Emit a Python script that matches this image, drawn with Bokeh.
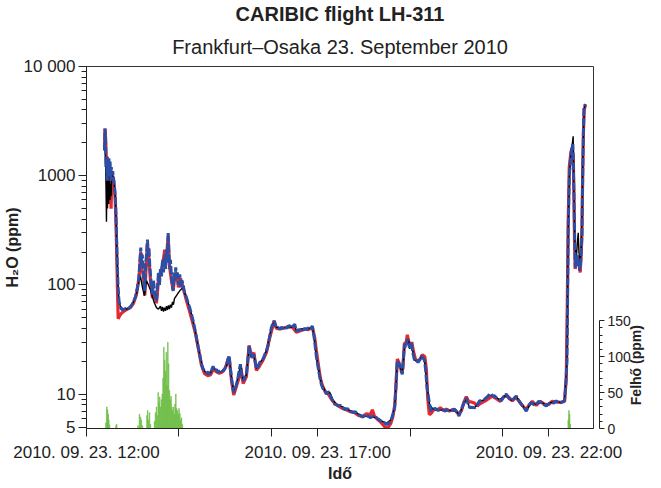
import math
import pandas as pd
from bokeh.plotting import figure
from bokeh.models import (Range1d, LinearAxis, LinearScale, FixedTicker, DatetimeTickFormatter,
                          Title)
from bokeh.embed import file_html
from bokeh.resources import INLINE

FLIGHT_DATE = "2010-09-23"

# ---- H2O, blue series (decimal hours of the day, ppm) ----
blue_hours = [12.389, 12.398, 12.411, 12.421, 12.432, 12.445, 12.458, 12.471, 12.484, 12.497,
              12.510, 12.523, 12.536, 12.551, 12.566, 12.584, 12.605, 12.627, 12.648, 12.663,
              12.681, 12.702, 12.724, 12.756, 12.800, 12.843, 12.886, 12.929, 12.973, 13.016,
              13.059, 13.102, 13.135, 13.156, 13.174, 13.189, 13.206, 13.225, 13.243, 13.260,
              13.279, 13.301, 13.318, 13.336, 13.351, 13.368, 13.387, 13.405, 13.426, 13.448,
              13.470, 13.491, 13.513, 13.534, 13.556, 13.578, 13.599, 13.621, 13.643, 13.664,
              13.692, 13.712, 13.729, 13.746, 13.766, 13.783, 13.800, 13.815, 13.837, 13.859,
              13.874, 13.891, 13.913, 13.930, 13.949, 13.967, 13.988, 14.016, 14.042, 14.064,
              14.090, 14.118, 14.161, 14.198, 14.232, 14.269, 14.306, 14.341, 14.377, 14.414,
              14.449, 14.485, 14.522, 14.557, 14.593, 14.630, 14.665, 14.702, 14.738, 14.773,
              14.810, 14.846, 14.881, 14.918, 14.954, 14.989, 15.026, 15.058, 15.084, 15.112,
              15.134, 15.160, 15.183, 15.209, 15.242, 15.274, 15.307, 15.328, 15.356, 15.387,
              15.421, 15.458, 15.486, 15.516, 15.540, 15.566, 15.592, 15.616, 15.646, 15.674,
              15.706, 15.745, 15.782, 15.819, 15.853, 15.890, 15.927, 15.961, 15.998, 16.026,
              16.057, 16.085, 16.106, 16.143, 16.178, 16.214, 16.251, 16.286, 16.322, 16.359,
              16.394, 16.430, 16.467, 16.502, 16.539, 16.575, 16.610, 16.647, 16.683, 16.718,
              16.755, 16.791, 16.826, 16.863, 16.884, 16.910, 16.934, 16.971, 17.007, 17.042,
              17.079, 17.115, 17.150, 17.187, 17.224, 17.258, 17.295, 17.332, 17.366, 17.403,
              17.446, 17.489, 17.548, 17.598, 17.641, 17.695, 17.764, 17.814, 17.868, 17.922,
              17.980, 18.030, 18.084, 18.138, 18.196, 18.246, 18.289, 18.339, 18.386, 18.440,
              18.484, 18.527, 18.570, 18.592, 18.628, 18.663, 18.689, 18.706, 18.721, 18.754,
              18.786, 18.808, 18.829, 18.855, 18.879, 18.905, 18.937, 18.963, 18.987, 19.007,
              19.024, 19.056, 19.095, 19.132, 19.169, 19.203, 19.240, 19.277, 19.311, 19.337,
              19.359, 19.385, 19.419, 19.456, 19.493, 19.527, 19.564, 19.607, 19.651, 19.709,
              19.759, 19.802, 19.852, 19.899, 19.953, 19.996, 20.055, 20.094, 20.141, 20.176,
              20.213, 20.249, 20.284, 20.321, 20.392, 20.429, 20.465, 20.500, 20.537, 20.573,
              20.608, 20.645, 20.681, 20.716, 20.753, 20.789, 20.824, 20.861, 20.904, 20.969,
              21.023, 21.077, 21.131, 21.185, 21.239, 21.293, 21.347, 21.401, 21.455, 21.509,
              21.563, 21.617, 21.671, 21.725, 21.779, 21.833, 21.887, 21.942, 21.996, 22.050,
              22.104, 22.158, 22.212, 22.266, 22.309, 22.337, 22.363, 22.389, 22.404, 22.417,
              22.432, 22.445, 22.465, 22.482, 22.503, 22.518, 22.529, 22.540, 22.553, 22.568,
              22.585, 22.605, 22.627, 22.648, 22.663, 22.676, 22.694, 22.713, 22.724, 22.735,
              22.745, 22.756, 22.774, 22.791]
blue_h2o = [1700, 2700, 2300, 1200, 1500, 900, 1400, 1000, 1450, 1100,
            1350, 900, 1200, 1050, 1100, 950, 800, 600, 300, 170,
            100, 72, 64, 60, 59, 61, 60, 62, 65, 70,
            78, 95, 120, 170, 220, 150, 190, 140, 110, 88,
            150, 200, 260, 180, 220, 150, 120, 95, 82, 110,
            90, 75, 72, 95, 130, 100, 140, 120, 170, 130,
            190, 140, 210, 160, 300, 190, 140, 170, 120, 95,
            88, 130, 110, 145, 115, 130, 100, 125, 95, 110,
            100, 85, 77, 68, 62, 54, 47, 40, 33, 27,
            23, 19, 17, 16.3, 15.5, 16, 15.2, 16.5, 18, 16.5,
            16.8, 15.8, 16.3, 16.8, 16.2, 17, 18.5, 21, 22.4, 17,
            14.2, 11.8, 10.3, 11, 12.3, 14, 17, 18.8, 15, 13.2,
            14, 15.2, 20, 27.7, 24, 21.6, 22.5, 23.2, 20, 17,
            17.8, 19.5, 20.2, 21, 23, 24.9, 28, 34, 40.7, 44,
            46.9, 43, 40.7, 40.7, 39.5, 41, 40, 41.5, 40, 42,
            42.3, 40.5, 42, 43.8, 37.4, 39, 38.5, 39.8, 38.5, 40,
            39, 40.5, 39.4, 40.5, 42, 36, 30.3, 22, 17.7, 14.5,
            12.3, 11.2, 10.8, 10, 10.5, 10.3, 9.2, 8.6, 8.1, 8.0,
            7.8, 7.9, 7.5, 7.2, 7.4, 7.0, 6.8, 6.9, 6.5, 6.4,
            6.2, 6.5, 6.3, 6.1, 6.3, 6.2, 6.0, 5.8, 5.6, 5.5,
            5.3, 5.4, 5.6, 5.9, 6.6, 7.5, 11, 16, 20.2, 19,
            18.2, 16, 15.2, 22, 28.7, 27, 31.9, 29, 26.7, 28,
            29.7, 24, 20.2, 20.5, 19.5, 20.5, 22.4, 21.5, 20.2, 16,
            12, 10, 8.0, 7.0, 7.2, 7.4, 7.3, 7.1, 7.3, 7.2,
            7.0, 7.2, 7.0, 7.1, 7.3, 7.0, 6.3, 7.0, 7.9, 8.6,
            9.2, 8.2, 7.5, 7.6, 7.5, 7.8, 8.2, 8.7, 8.7, 8.9,
            9.0, 9.3, 9.6, 10, 10, 9.6, 9.7, 9.3, 9.0, 8.7,
            9.5, 10, 9.2, 8.7, 9.1, 9.6, 8.8, 8.1, 7.6, 7.0,
            7.8, 8.4, 8.0, 8.1, 8.6, 8.4, 8.0, 7.8, 8.2, 8.4,
            8.3, 8.7, 8.3, 8.4, 8.6, 8.7, 12, 20, 80, 335,
            700, 1110, 1400, 1700, 1850, 1950, 1100, 680, 300, 144,
            165, 191, 150, 166, 135, 144, 180, 290, 700, 1390,
            2500, 4200, 4400, 4500]

# ---- H2O, red series ----
red_hours = [12.389, 12.402, 12.417, 12.432, 12.450, 12.465, 12.482, 12.497, 12.519, 12.532,
             12.547, 12.566, 12.588, 12.612, 12.633, 12.653, 12.670, 12.685, 12.713, 12.756,
             12.821, 12.886, 12.951, 13.016, 13.081, 13.135, 13.174, 13.199, 13.232, 13.260,
             13.297, 13.318, 13.351, 13.383, 13.426, 13.470, 13.513, 13.556, 13.599, 13.643,
             13.692, 13.729, 13.766, 13.794, 13.837, 13.874, 13.913, 13.945, 13.988, 14.032,
             14.090, 14.161, 14.226, 14.291, 14.356, 14.421, 14.485, 14.550, 14.615, 14.680,
             14.745, 14.810, 14.874, 14.939, 15.004, 15.084, 15.134, 15.183, 15.242, 15.307,
             15.339, 15.387, 15.458, 15.516, 15.566, 15.620, 15.674, 15.739, 15.804, 15.890,
             15.955, 16.009, 16.057, 16.106, 16.193, 16.279, 16.366, 16.452, 16.539, 16.625,
             16.711, 16.798, 16.884, 16.934, 16.971, 17.014, 17.057, 17.100, 17.165, 17.230,
             17.295, 17.360, 17.446, 17.533, 17.619, 17.706, 17.792, 17.878, 17.965, 18.051,
             18.138, 18.181, 18.224, 18.289, 18.354, 18.419, 18.473, 18.527, 18.581, 18.624,
             18.667, 18.700, 18.721, 18.765, 18.808, 18.840, 18.873, 18.916, 18.937, 18.970,
             19.002, 19.035, 19.067, 19.110, 19.154, 19.218, 19.262, 19.316, 19.348, 19.380,
             19.413, 19.456, 19.521, 19.586, 19.651, 19.715, 19.780, 19.845, 19.910, 19.975,
             20.040, 20.105, 20.159, 20.213, 20.267, 20.321, 20.385, 20.450, 20.515, 20.580,
             20.645, 20.710, 20.774, 20.861, 20.947, 21.034, 21.120, 21.207, 21.293, 21.379,
             21.466, 21.509, 21.574, 21.639, 21.725, 21.812, 21.898, 21.985, 22.071, 22.158,
             22.244, 22.337, 22.374, 22.395, 22.417, 22.439, 22.471, 22.503, 22.525, 22.540,
             22.553, 22.568, 22.590, 22.611, 22.633, 22.655, 22.676, 22.698, 22.713, 22.730,
             22.745, 22.763, 22.791]
red_h2o = [1800, 2700, 2000, 1200, 1500, 700, 600, 1300, 700, 500,
           1100, 1000, 900, 700, 450, 200, 90, 49, 52, 55,
           58, 60, 62, 68, 82, 115, 200, 140, 120, 80,
           170, 240, 170, 110, 76, 85, 68, 110, 125, 150,
           210, 180, 280, 150, 110, 90, 120, 130, 95, 115,
           95, 72, 58, 46, 36, 26, 18.5, 15.5, 14.8, 15.0,
           17.0, 16.0, 15.5, 16.0, 17.5, 22, 13.5, 9.8, 11.8, 14.5,
           17.5, 12.5, 14.5, 28, 22.5, 24, 16.5, 18, 20, 24,
           32, 39, 47, 40, 39.5, 40.5, 41.5, 41, 37, 38,
           39.5, 39, 41, 33, 25, 18.5, 14, 12, 10.5, 10,
           9.0, 8.3, 7.8, 7.4, 7.2, 6.9, 6.8, 6.4, 6.2, 6.6,
           6.5, 7.2, 6.3, 5.9, 5.6, 5.2, 4.9, 5.0, 5.4, 6.2,
           8.0, 14, 21, 19, 16.5, 17, 29, 30, 35, 30,
           27, 30, 25, 21, 20, 21, 23, 22, 17, 9,
           6.5, 6.7, 7.3, 7.2, 7.5, 7.1, 7.3, 7.0, 7.2, 7.1,
           6.6, 7.0, 8.4, 9.5, 8.5, 8.5, 8.3, 7.8, 8.2, 8.5,
           8.8, 9.2, 9.6, 9.1, 8.6, 9.6, 9.5, 8.7, 9.3, 8.3,
           7.5, 7.3, 8.0, 8.6, 7.9, 8.6, 8.1, 8.0, 8.6, 8.5,
           8.4, 8.6, 14, 60, 400, 1200, 1600, 1800, 1500, 700,
           250, 140, 170, 185, 150, 160, 130, 200, 300, 1100,
           2500, 4000, 4500]

# ---- H2O, black series ----
black_hours = [12.389, 12.400, 12.411, 12.421, 12.432, 12.443, 12.454, 12.467, 12.480, 12.493,
               12.506, 12.519, 12.532, 12.547, 12.562, 12.584, 12.605, 12.627, 12.648, 12.663,
               12.681, 12.702, 12.735, 12.800, 12.864, 12.929, 12.994, 13.059, 13.102, 13.135,
               13.167, 13.210, 13.253, 13.297, 13.340, 13.383, 13.426, 13.470, 13.513, 13.556,
               13.599, 13.621, 13.643, 13.664, 13.686, 13.707, 13.729, 13.751, 13.772, 13.794,
               13.815, 13.837, 13.859, 13.880, 13.902, 13.945, 13.988, 14.032, 14.090, 14.118,
               14.161, 14.232, 14.306, 14.377, 14.449, 14.522, 14.593, 14.665, 14.738, 14.810,
               14.881, 14.954, 15.026, 15.084, 15.134, 15.183, 15.242, 15.307, 15.328, 15.387,
               15.458, 15.516, 15.566, 15.616, 15.674, 15.745, 15.819, 15.890, 15.961, 15.998,
               16.057, 16.106, 16.214, 16.322, 16.430, 16.502, 16.539, 16.647, 16.755, 16.863,
               16.884, 16.934, 16.971, 17.007, 17.079, 17.187, 17.258, 17.332, 17.403, 17.548,
               17.690, 17.835, 17.980, 18.123, 18.267, 18.376, 18.484, 18.592, 18.663, 18.706,
               18.721, 18.786, 18.829, 18.879, 18.937, 18.963, 18.987, 19.024, 19.095, 19.169,
               19.240, 19.311, 19.359, 19.385, 19.419, 19.493, 19.564, 19.709, 19.852, 19.996,
               20.055, 20.141, 20.213, 20.284, 20.392, 20.500, 20.608, 20.716, 20.824, 20.932,
               21.077, 21.185, 21.293, 21.401, 21.509, 21.617, 21.725, 21.833, 21.942, 22.050,
               22.158, 22.266, 22.337, 22.389, 22.417, 22.445, 22.482, 22.508, 22.523, 22.536,
               22.547, 22.560, 22.575, 22.594, 22.616, 22.633, 22.648, 22.665, 22.680, 22.698,
               22.713, 22.730, 22.748, 22.767, 22.791]
black_h2o = [1700, 2500, 1500, 800, 380, 1200, 500, 900, 550, 1000,
             600, 850, 650, 1050, 1000, 950, 800, 600, 300, 170,
             100, 72, 63, 60, 60, 62, 67, 76, 90, 110,
             120, 95, 80, 110, 100, 90, 78, 68, 62, 60,
             64, 58, 63, 57, 62, 58, 64, 59, 65, 60,
             66, 62, 70, 66, 75, 80, 85, 90, 95, 85,
             77, 62, 47, 33, 23, 17, 15.5, 15.2, 17.5, 16.5,
             16, 16.2, 18, 22, 14, 10.5, 12.5, 16.5, 18.5, 13.5,
             15, 27, 21.5, 23, 17.2, 19.5, 21, 25, 34, 40.5,
             46, 41, 40.5, 40.5, 41, 43, 38, 39.5, 39.5, 40.5,
             42, 30.5, 22, 18, 12.5, 10.2, 10.4, 8.8, 8.1, 7.6,
             7.1, 6.7, 6.3, 6.2, 6.1, 5.7, 5.4, 5.9, 7.6, 15,
             19, 17.5, 15.5, 27.5, 30, 32, 26, 29, 20.5, 19.8,
             22, 20.5, 12.5, 10.2, 8.0, 7.3, 7.2, 7.1, 7.1, 7.0,
             6.5, 7.8, 9.0, 7.6, 7.5, 8.6, 8.9, 9.8, 9.6, 8.9,
             9.8, 8.8, 9.5, 8.2, 7.1, 8.3, 8.1, 8.5, 7.9, 8.4,
             8.6, 8.4, 8.7, 20, 330, 1100, 1700, 2000, 2300, 1000,
             450, 250, 200, 180, 250, 300, 200, 170, 160, 230,
             400, 1200, 2700, 4200, 4500]

# ---- cloud water (right axis, ppm) ----
cloud_hours = [12.421, 12.439, 12.454, 12.469, 12.482, 12.497, 12.638, 12.653,
               13.113, 13.145, 13.167, 13.184, 13.210, 13.308, 13.323, 13.340, 13.362, 13.383,
               13.470, 13.491, 13.513, 13.530, 13.550, 13.567, 13.584, 13.604, 13.621, 13.638,
               13.655, 13.673, 13.690, 13.707, 13.725, 13.742, 13.759, 13.776, 13.794, 13.811,
               13.828, 13.846, 13.863, 13.880, 13.898, 13.915, 13.932, 13.949, 13.967, 13.984,
               14.001, 14.019, 14.036, 14.053, 14.070,
               22.417, 22.432, 22.447, 22.460]
cloud_ppm = [8, 30, 26, 20, 12, 5, 4, 6,
             4, 20, 16, 12, 4, 18, 25, 12, 22, 6,
             10, 22, 30, 18, 50, 36, 44, 30, 40, 48,
             70, 113, 95, 80, 106, 60, 120, 90, 53, 40,
             45, 30, 25, 30, 20, 34, 48, 28, 25, 20,
             28, 21, 12, 15, 6,
             12, 25, 20, 6]

# ---- axes ----
x_major_hours = [12, 17, 22]
x_minor_hours = [14, 16, 19, 21]
y_ticks = [5, 10, 100, 1000, 10000]
y_tick_labels = ["5", "10", "100", "1000", "10 000"]
y_minor_ticks = [6, 7, 8, 9, 20, 30, 40, 50, 60, 70, 80, 90,
                 200, 300, 400, 500, 600, 700, 800, 900,
                 2000, 3000, 4000, 5000, 6000, 7000, 8000, 9000]
cloud_ticks = [0, 50, 100, 150]
cloud_minor_ticks = [10, 20, 30, 40, 60, 70, 80, 90, 110, 120, 130, 140]

BASE = pd.Timestamp(FLIGHT_DATE)


def to_dt(hours):
    return [BASE + pd.Timedelta(hours=h) for h in hours]


def to_ms(hours):
    return [(BASE + pd.Timedelta(hours=h)).value / 1e6 for h in hours]


FONT = "Liberation Sans"
TXT = "#222222"
RED = "#e8282c"
BLUE = "#2b4ea6"
GREEN = "#6cbd45"

p = figure(
    x_axis_type="datetime", y_axis_type="log",
    x_range=Range1d(BASE + pd.Timedelta(hours=12.0), BASE + pd.Timedelta(hours=22.963)),
    y_range=Range1d(4.85, 10000),
    frame_width=507, frame_height=362,
    min_border_left=82, min_border_top=10, min_border_right=10, min_border_bottom=5,
    output_backend="svg", toolbar_location=None,
    background_fill_color="white", border_fill_color="white",
)
p.extra_y_ranges = {"cloud": Range1d(0, 504)}
p.extra_y_scales = {"cloud": LinearScale()}

p.title.text = "CARIBIC flight LH-311"
p.title.align = "center"
p.title.text_font = FONT
p.title.text_font_size = "20px"
p.title.text_font_style = "bold"
p.title.text_color = TXT
p.title.standoff = 0
sub = Title(text="Frankfurt\u2013Osaka 23. September 2010", align="center",
            text_font=FONT, text_font_size="20px", text_font_style="normal",
            text_color=TXT, standoff=18)
p.add_layout(sub, "above")

p.grid.visible = False
p.outline_line_color = "#333333"
p.outline_line_width = 1

# cloud bars (right axis)
p.vbar(x=to_dt(cloud_hours), top=cloud_ppm, bottom=0, width=55000,
       y_range_name="cloud", fill_color=GREEN, line_color=GREEN, line_width=0.5)

# H2O lines
p.line(to_dt(red_hours), red_h2o, line_color=RED, line_width=3.2)
p.line(to_dt(black_hours), black_h2o, line_color="black", line_width=1.4)
p.line(to_dt(blue_hours), blue_h2o, line_color=BLUE, line_width=3.0, line_dash="8 2")

# x axis
xa = p.xaxis[0]
xa.ticker = FixedTicker(ticks=to_ms(x_major_hours), minor_ticks=to_ms(x_minor_hours))
fmt = "%Y. %m. %d. %H:%M"
xa.formatter = DatetimeTickFormatter(
    microseconds=fmt, milliseconds=fmt, seconds=fmt, minsec=fmt, minutes=fmt,
    hourmin=fmt, hours=fmt, days=fmt, months=fmt, years=fmt)
xa.axis_label = "Idő"

# y axis
ya = p.yaxis[0]
ya.ticker = FixedTicker(ticks=y_ticks, minor_ticks=y_minor_ticks)
ya.major_label_overrides = {t: s for t, s in zip(y_ticks, y_tick_labels)}
ya.axis_label = "H\u2082O (ppm)"

for ax in (xa, ya):
    ax.axis_line_color = TXT
    ax.major_tick_line_color = TXT
    ax.minor_tick_line_color = TXT
    ax.major_tick_in = 0
    ax.minor_tick_in = 0
    ax.major_tick_out = 8
    ax.major_label_text_font = FONT
    ax.major_label_text_font_size = "17px"
    ax.major_label_text_color = TXT
    ax.axis_label_text_font = FONT
    ax.axis_label_text_font_size = "16px"
    ax.axis_label_text_font_style = "bold"
    ax.axis_label_text_color = TXT

xa.minor_tick_out = 8
xa.major_label_standoff = 6
xa.axis_label_standoff = 0
ya.minor_tick_out = 5
ya.major_label_standoff = 3
ya.axis_label_standoff = 0

# invisible spacer so the cloud axis sits a little right of the frame
spacer = LinearAxis(y_range_name="cloud", ticker=FixedTicker(ticks=[75], minor_ticks=[]),
                    axis_line_color=None, major_tick_line_color=None,
                    minor_tick_line_color=None, major_tick_in=0, major_tick_out=6,
                    minor_tick_in=0, minor_tick_out=0, major_label_standoff=0,
                    major_label_text_font_size="1px", major_label_text_alpha=0,
                    major_label_overrides={75: ""})
p.add_layout(spacer, "right")

# right axis for cloud
ra = LinearAxis(y_range_name="cloud", bounds=(0, 150),
                ticker=FixedTicker(ticks=cloud_ticks, minor_ticks=cloud_minor_ticks))
ra.axis_line_color = TXT
ra.major_tick_line_color = TXT
ra.minor_tick_line_color = TXT
ra.major_tick_in = 0
ra.minor_tick_in = 0
ra.major_tick_out = 5
ra.minor_tick_out = 3
ra.major_label_standoff = 3
ra.major_label_text_font = FONT
ra.major_label_text_font_size = "14px"
ra.major_label_text_color = TXT
ra.axis_label_text_font = FONT
ra.axis_label_text_font_size = "14px"
ra.axis_label_text_font_style = "bold"
ra.axis_label_text_color = TXT
ra.axis_label_standoff = 2
ra.axis_label_orientation = math.pi / 2
ra.axis_label_align = "start"
ra.axis_label = "\u00a0" * 6 + "Felhő (ppm)"
p.add_layout(ra, "right")

open("out.html", "w").write(file_html(p, INLINE))
